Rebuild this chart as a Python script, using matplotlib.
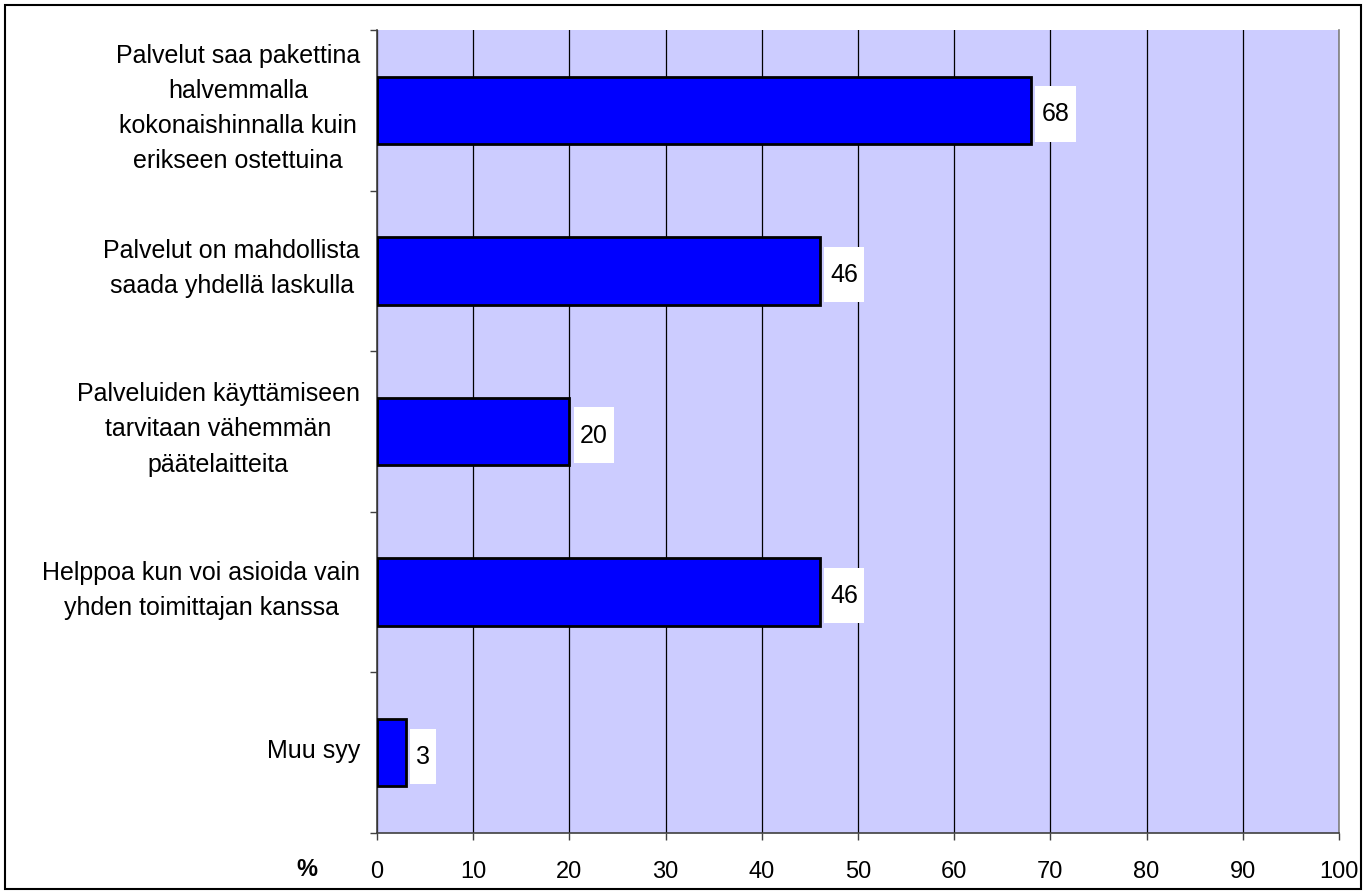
import matplotlib.pyplot as plt
from matplotlib.patches import Rectangle

plt.rcParams['font.family'] = ['Liberation Sans', 'DejaVu Sans']

# Syyt palvelupaketin valintaan (%)
reasons = [
    'Palvelut saa pakettina\nhalvemmalla\nkokonaishinnalla kuin\nerikseen ostettuina',
    'Palvelut on mahdollista\nsaada yhdellä laskulla',
    'Palveluiden käyttämiseen\ntarvitaan vähemmän\npäätelaitteita',
    'Helppoa kun voi asioida vain\nyhden toimittajan kanssa',
    'Muu syy',
]
values = [68, 46, 20, 46, 3]
xticks = [0, 10, 20, 30, 40, 50, 60, 70, 80, 90, 100]

fig = plt.figure(figsize=(13.66, 8.94), dpi=100)
ax = fig.add_axes([377 / 1366, 61 / 894, 962 / 1366, 803 / 894])
ax.set_facecolor('#CCCCFF')

pos = list(range(len(values)))
ax.barh(pos, values, height=0.42, color='#0000FF', edgecolor='black', linewidth=2, zorder=3)

# Value labels in white boxes
for y, v in zip(pos, values):
    w = 1.2 + 1.5 * len(str(v))
    ax.add_patch(Rectangle((v + 0.45, y - 0.15), w, 0.345, facecolor='white',
                           edgecolor='none', zorder=4))
    ax.text(v + 0.45 + w / 2, y + 0.025, str(v), ha='center', va='center',
            fontsize=18, zorder=5)

# Category labels (right aligned block, centred lines)
for y, lab in zip(pos, reasons):
    ax.annotate(lab, xy=(0, y), xycoords=('axes fraction', 'data'),
                xytext=(-17, 2), textcoords='offset pixels',
                ha='right', va='center', multialignment='center',
                fontsize=18, linespacing=1.58)

ax.set_xlim(0, 100)
ax.set_ylim(len(values) - 0.5, -0.5)
ax.set_xticks(xticks)
ax.set_xticklabels([str(t) for t in xticks], fontsize=17)
ax.set_yticks([p - 0.5 for p in pos] + [len(values) - 0.5])
ax.set_yticklabels([])
ax.tick_params(axis='y', length=5, width=1, color='#404040')
ax.tick_params(axis='x', length=5, width=1, color='#404040', pad=15)

ax.xaxis.grid(True, color='black', linewidth=0.9)
ax.set_axisbelow(True)
ax.spines['top'].set_visible(False)
ax.spines['right'].set_color('#808080')
ax.spines['left'].set_color('#404040')
ax.spines['bottom'].set_color('#404040')
for s in ('left', 'bottom', 'right'):
    ax.spines[s].set_linewidth(1.2)

fig.text(307 / 1366, 1 - 870 / 894, '%', ha='center', va='center',
         fontsize=17, fontweight='bold')

# outer frame
fig.patches.append(Rectangle((5 / 1366, 5 / 894), 1356 / 1366, 884 / 894,
                             transform=fig.transFigure, fill=False,
                             edgecolor='black', linewidth=1.5))

fig.savefig('out.png', dpi=100)
